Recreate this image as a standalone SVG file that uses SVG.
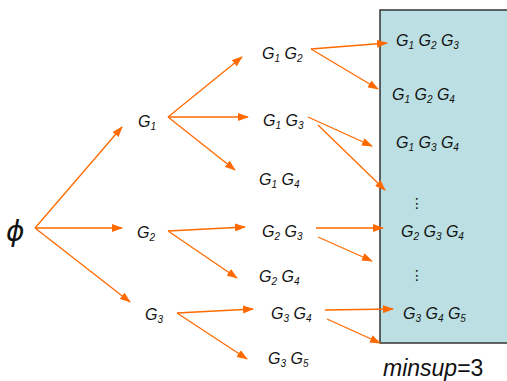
<svg xmlns="http://www.w3.org/2000/svg" width="507" height="381" viewBox="0 0 507 381">
<style>
.t{font-family:"Liberation Sans",Arial,sans-serif;font-size:16px;font-style:italic;fill:#111}
.s{font-size:10px}
.c line{stroke:#ff6a00;stroke-width:1.3;marker-end:url(#ah)}
.dots{font-family:"DejaVu Sans",sans-serif;font-size:14px;fill:#111}
</style>
<defs>
<marker id="ah" markerUnits="userSpaceOnUse" markerWidth="11" markerHeight="8" refX="10" refY="4" orient="auto">
<path d="M0,0 L11,4 L0,8 z" fill="#ff6a00"/>
</marker>
</defs>
<rect id="box" x="380" y="10" width="132" height="333" fill="#bbdfe2" stroke="#333" stroke-width="1.5"/>
<g class="c" id="connectors">
<line x1="35" y1="228" x2="122" y2="127"/>
<line x1="35" y1="228" x2="122" y2="228"/>
<line x1="35" y1="228" x2="130" y2="302"/>
<line x1="168" y1="117" x2="242" y2="57"/>
<line x1="168" y1="117" x2="248" y2="117"/>
<line x1="168" y1="117" x2="235" y2="170"/>
<line x1="168" y1="231" x2="245" y2="227"/>
<line x1="168" y1="231" x2="237" y2="278"/>
<line x1="177" y1="313" x2="253" y2="309"/>
<line x1="177" y1="313" x2="247" y2="359"/>
<line x1="311" y1="49" x2="387" y2="43"/>
<line x1="311" y1="49" x2="378" y2="89"/>
<line x1="308" y1="117" x2="372" y2="146"/>
<line x1="318" y1="125" x2="385" y2="190"/>
<line x1="316" y1="228" x2="383" y2="228"/>
<line x1="318" y1="237" x2="372" y2="261"/>
<line x1="325" y1="310" x2="393" y2="309"/>
<line x1="327" y1="319" x2="380" y2="343"/>
</g>
<g id="phi"><text x="6" y="241" style="font-family:'DejaVu Sans',sans-serif;font-size:28px;font-style:italic;fill:#111">ϕ</text></g>
<g id="g1"><text class="t" x="138" y="127">G<tspan class="s" dy="3">1</tspan></text></g>
<g id="g2"><text class="t" x="137" y="238">G<tspan class="s" dy="3">2</tspan></text></g>
<g id="g3"><text class="t" x="145" y="320">G<tspan class="s" dy="3">3</tspan></text></g>
<g id="g12"><text class="t" x="262" y="59">G<tspan class="s" dy="3">1</tspan><tspan dy="-3"> G</tspan><tspan class="s" dy="3">2</tspan></text></g>
<g id="g13"><text class="t" x="263" y="126">G<tspan class="s" dy="3">1</tspan><tspan dy="-3"> G</tspan><tspan class="s" dy="3">3</tspan></text></g>
<g id="g14"><text class="t" x="259" y="185">G<tspan class="s" dy="3">1</tspan><tspan dy="-3"> G</tspan><tspan class="s" dy="3">4</tspan></text></g>
<g id="g23"><text class="t" x="262" y="237">G<tspan class="s" dy="3">2</tspan><tspan dy="-3"> G</tspan><tspan class="s" dy="3">3</tspan></text></g>
<g id="g24"><text class="t" x="259" y="282">G<tspan class="s" dy="3">2</tspan><tspan dy="-3"> G</tspan><tspan class="s" dy="3">4</tspan></text></g>
<g id="g34"><text class="t" x="271" y="319">G<tspan class="s" dy="3">3</tspan><tspan dy="-3"> G</tspan><tspan class="s" dy="3">4</tspan></text></g>
<g id="g35"><text class="t" x="268" y="364">G<tspan class="s" dy="3">3</tspan><tspan dy="-3"> G</tspan><tspan class="s" dy="3">5</tspan></text></g>
<g id="g123"><text class="t" x="396" y="46">G<tspan class="s" dy="3">1</tspan><tspan dy="-3"> G</tspan><tspan class="s" dy="3">2</tspan><tspan dy="-3"> G</tspan><tspan class="s" dy="3">3</tspan></text></g>
<g id="g124"><text class="t" x="392" y="100">G<tspan class="s" dy="3">1</tspan><tspan dy="-3"> G</tspan><tspan class="s" dy="3">2</tspan><tspan dy="-3"> G</tspan><tspan class="s" dy="3">4</tspan></text></g>
<g id="g134"><text class="t" x="396" y="148">G<tspan class="s" dy="3">1</tspan><tspan dy="-3"> G</tspan><tspan class="s" dy="3">3</tspan><tspan dy="-3"> G</tspan><tspan class="s" dy="3">4</tspan></text></g>
<g id="g234"><text class="t" x="401" y="237">G<tspan class="s" dy="3">2</tspan><tspan dy="-3"> G</tspan><tspan class="s" dy="3">3</tspan><tspan dy="-3"> G</tspan><tspan class="s" dy="3">4</tspan></text></g>
<g id="g345"><text class="t" x="403" y="319">G<tspan class="s" dy="3">3</tspan><tspan dy="-3"> G</tspan><tspan class="s" dy="3">4</tspan><tspan dy="-3"> G</tspan><tspan class="s" dy="3">5</tspan></text></g>
<text class="dots" x="410" y="208">⋮</text>
<text class="dots" x="410" y="280">⋮</text>
<text x="383" y="376" style="font-family:'Liberation Sans',Arial,sans-serif;font-size:23px;fill:#111"><tspan font-style="italic">minsup</tspan>=3</text>
</svg>
